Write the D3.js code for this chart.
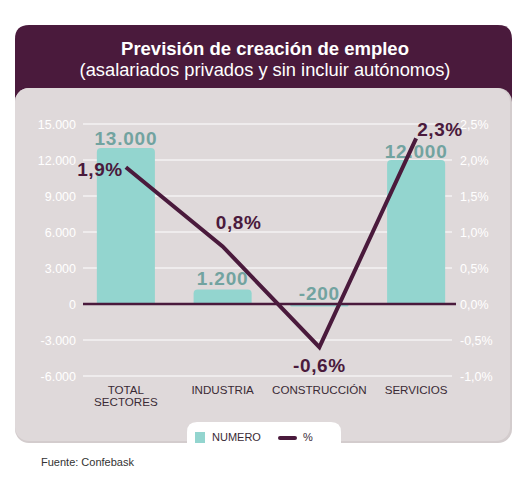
<!DOCTYPE html>
<html><head><meta charset="utf-8">
<script src="https://cdn.jsdelivr.net/npm/d3@7"></script>
<style>body{margin:0;background:#fff}svg{display:block}</style>
</head><body>
<svg id="c" width="525" height="478"></svg>
<script>
const categories = ["TOTAL SECTORES", "INDUSTRIA", "CONSTRUCCIÓN", "SERVICIOS"];
const numero = [13000, 1200, -200, 12000];
const numeroLabels = ["13.000", "1.200", "-200", "12.000"];
const pct = [1.9, 0.8, -0.6, 2.3];
const pctLabels = ["1,9%", "0,8%", "-0,6%", "2,3%"];
const leftTicks = [15000, 12000, 9000, 6000, 3000, 0, -3000, -6000];
const leftTickLabels = ["15.000", "12.000", "9.000", "6.000", "3.000", "0", "-3.000", "-6.000"];
const rightTicks = [2.5, 2.0, 1.5, 1.0, 0.5, 0.0, -0.5, -1.0];
const rightTickLabels = ["2,5%", "2,0%", "1,5%", "1,0%", "0,5%", "0,0%", "-0,5%", "-1,0%"];

const svg = d3.select("#c");
const font = "Liberation Sans, Arial, sans-serif";
const dark = "#4a1a3c";
const gray = "#dfd9da";
const teal = "#93d5cf";

// panels
function roundTop(x, y, w, h, r) {
  return `M${x},${y+h}V${y+r}Q${x},${y} ${x+r},${y}H${x+w-r}Q${x+w},${y} ${x+w},${y+r}V${y+h}Z`;
}
svg.append("path").attr("d", roundTop(15, 25, 497, 80, 14)).attr("fill", dark);
svg.append("rect").attr("x", 15).attr("y", 88).attr("width", 497).attr("height", 355)
  .attr("rx", 14).attr("fill", "#d3cccd");
svg.append("rect").attr("x", 15).attr("y", 88).attr("width", 495).attr("height", 353)
  .attr("rx", 14).attr("fill", gray);

svg.append("text").attr("x", 265).attr("y", 55).attr("text-anchor", "middle")
  .attr("fill", "#fff").attr("font-family", font).attr("font-weight", "bold").attr("font-size", 18.5)
  .text("Previsión de creación de empleo");
svg.append("text").attr("x", 265).attr("y", 76).attr("text-anchor", "middle")
  .attr("fill", "#fff").attr("font-family", font).attr("font-size", 18.3)
  .text("(asalariados privados y sin incluir autónomos)");

// scales
const x = d3.scaleBand().domain(categories).range([77.5, 464.5]).paddingInner(0.4).paddingOuter(0.2);
const yL = d3.scaleLinear().domain([-6000, 15000]).range([376, 124]);
const yR = d3.scaleLinear().domain([-1.0, 2.5]).range([376, 124]);

// gridlines
svg.append("g").selectAll("line").data(leftTicks.filter(d => d !== 0)).join("line")
  .attr("x1", 83).attr("x2", 452).attr("y1", d => yL(d)).attr("y2", d => yL(d))
  .attr("stroke", "#fff").attr("stroke-width", 1.2);

// axes
const axL = svg.append("g").attr("transform", "translate(80,0)")
  .call(d3.axisLeft(yL).tickValues(leftTicks).tickSize(0).tickPadding(4)
    .tickFormat((d, i) => leftTickLabels[i]));
const axR = svg.append("g").attr("transform", "translate(457,0)")
  .call(d3.axisRight(yR).tickValues(rightTicks).tickSize(0).tickPadding(3)
    .tickFormat((d, i) => rightTickLabels[i]));
[axL, axR].forEach(a => {
  a.select(".domain").remove();
  a.selectAll("text").attr("fill", "#fff").attr("font-family", font).attr("font-size", 12.5);
});

// bars
const bw = x.bandwidth();
svg.append("g").selectAll("path").data(numero).join("path")
  .attr("d", (d, i) => {
    const x0 = x(categories[i]), y0 = yL(Math.max(0, d)), y1 = yL(Math.min(0, d));
    const h = y1 - y0, r = Math.min(4, h / 2);
    if (d >= 0) return `M${x0},${y1}V${y0+r}Q${x0},${y0} ${x0+r},${y0}H${x0+bw-r}Q${x0+bw},${y0} ${x0+bw},${y0+r}V${y1}Z`;
    return `M${x0},${y0}H${x0+bw}V${y1-r}Q${x0+bw},${y1} ${x0+bw-r},${y1}H${x0+r}Q${x0},${y1} ${x0},${y1-r}Z`;
  })
  .attr("fill", teal);

// bar labels
const barLabelY = [yL(13000) - 3, yL(1200) - 5, yL(0) - 4, yL(12000) - 2];
svg.append("g").selectAll("text").data(numeroLabels).join("text")
  .attr("x", (d, i) => x(categories[i]) + bw / 2).attr("y", (d, i) => barLabelY[i])
  .attr("text-anchor", "middle").attr("fill", "#72a3a0").attr("font-family", font)
  .attr("font-weight", "bold").attr("font-size", 19).attr("letter-spacing", 0.8).text(d => d);

// zero line
svg.append("line").attr("x1", 83).attr("x2", 456).attr("y1", yL(0)).attr("y2", yL(0))
  .attr("stroke", dark).attr("stroke-width", 2.5);

// pct line
const line = d3.line().x((d, i) => x(categories[i]) + bw / 2).y(d => yR(d));
svg.append("path").datum(pct).attr("d", line).attr("fill", "none")
  .attr("stroke", dark).attr("stroke-width", 4).attr("stroke-linejoin", "miter");

const pl = [
  {dx: -3, dy: 9, a: "end"},
  {dx: 16, dy: -17, a: "middle"},
  {dx: 0, dy: 25, a: "middle"},
  {dx: 1, dy: -2, a: "start"}
];
svg.append("g").selectAll("text").data(pctLabels).join("text")
  .attr("x", (d, i) => x(categories[i]) + bw / 2 + pl[i].dx)
  .attr("y", (d, i) => yR(pct[i]) + pl[i].dy)
  .attr("text-anchor", (d, i) => pl[i].a)
  .attr("fill", dark).attr("font-family", font).attr("font-weight", "bold").attr("font-size", 19)
  .attr("letter-spacing", 0.6)
  .text(d => d);

// category labels
const cat = svg.append("g").selectAll("text").data(categories).join("text")
  .attr("x", d => x(d) + bw / 2).attr("y", 394).attr("text-anchor", "middle")
  .attr("fill", "#3a2a35").attr("font-family", font).attr("font-size", 11.6);
cat.each(function(d) {
  const parts = d === "TOTAL SECTORES" ? ["TOTAL", "SECTORES"] : [d];
  d3.select(this).selectAll("tspan").data(parts).join("tspan")
    .attr("x", x(d) + bw / 2).attr("dy", (p, j) => j ? 12 : 0).text(p => p);
});

// legend tab
svg.append("path").attr("d", roundTop(187, 422, 154, 23, 10)).attr("fill", "#fff");
svg.append("rect").attr("x", 195).attr("y", 432).attr("width", 10).attr("height", 11).attr("fill", teal);
svg.append("text").attr("x", 212).attr("y", 441).attr("fill", "#3a2a35").attr("font-family", font)
  .attr("font-size", 11).text("NUMERO");
svg.append("line").attr("x1", 280).attr("x2", 295).attr("y1", 438).attr("y2", 438)
  .attr("stroke", dark).attr("stroke-width", 4).attr("stroke-linecap", "round");
svg.append("text").attr("x", 303).attr("y", 441).attr("fill", "#3a2a35").attr("font-family", font)
  .attr("font-size", 11).text("%");

svg.append("text").attr("x", 41).attr("y", 466).attr("fill", "#333").attr("font-family", font)
  .attr("font-size", 11).text("Fuente: Confebask");
</script>
</body></html>
